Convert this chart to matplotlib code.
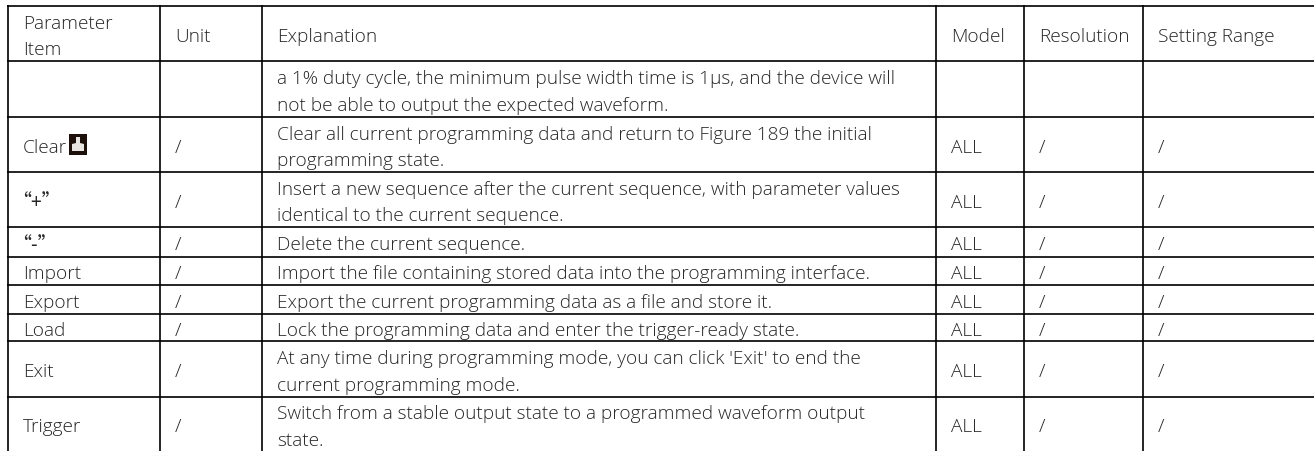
import matplotlib
matplotlib.use('AGG')
import matplotlib.pyplot as plt
from matplotlib.patches import Rectangle, Polygon

plt.rcParams['font.family'] = ['Open Sans', 'DejaVu Sans']

headers = ['Parameter\nItem', 'Unit', 'Explanation', 'Model', 'Resolution', 'Setting Range']
items = ['', 'Clear', '\u201c+\u201d', '\u201c-\u201d', 'Import', 'Export', 'Load', 'Exit', 'Trigger']
units = ['', '/', '/', '/', '/', '/', '/', '/', '/']
explanations = [
    'a 1% duty cycle, the minimum pulse width time is 1\u00b5s, and the device will\nnot be able to output the expected waveform.',
    'Clear all current programming data and return to Figure 189 the initial\nprogramming state.',
    'Insert a new sequence after the current sequence, with parameter values\nidentical to the current sequence.',
    'Delete the current sequence.',
    'Import the file containing stored data into the programming interface.',
    'Export the current programming data as a file and store it.',
    'Lock the programming data and enter the trigger-ready state.',
    "At any time during programming mode, you can click 'Exit' to end the\ncurrent programming mode.",
    'Switch from a stable output state to a programmed waveform output\nstate.',
]
models = ['', 'ALL', 'ALL', 'ALL', 'ALL', 'ALL', 'ALL', 'ALL', 'ALL']
resolutions = ['', '/', '/', '/', '/', '/', '/', '/', '/']
ranges = ['', '/', '/', '/', '/', '/', '/', '/', '/']

col_lines = [8, 160, 262, 936, 1024, 1143]
row_lines = [7, 62, 118, 173, 228, 258, 286, 315, 342, 398, 452]
pad = 15
font_size = 13.7
text_color = '#262626'


def draw_cell(ax, col, row, text):
    x = col_lines[col] + pad
    y = (row_lines[row] + row_lines[row + 1]) / 2 + 2.5
    family = ['Open Sans', 'DejaVu Sans']
    if text[:1] == '\u201c':
        # full width quotes sit at the right of their box
        family = ['Noto Sans CJK SC', 'DejaVu Sans']
        x -= 11
    ax.text(x, y, text, ha='left', va='center', fontsize=font_size,
            color=text_color, linespacing=1.6, family=family, fontweight='light')


def draw_clear_icon(ax, x, y):
    ax.add_patch(Rectangle((x, y), 18, 21, color='#1d0f0a', lw=0))
    ax.add_patch(Polygon([(x + 7, y + 3), (x + 11, y + 3), (x + 11, y + 9), (x + 15, y + 10),
                          (x + 15, y + 17), (x + 3, y + 17), (x + 3, y + 10), (x + 7, y + 9)],
                         color='#e8e4e0', lw=0))


fig = plt.figure(figsize=(13.14, 4.52), dpi=100)
ax = fig.add_axes([0, 0, 1, 1])
ax.set_xlim(0, 1314)
ax.set_ylim(452, 0)
ax.axis('off')

for x in col_lines:
    ax.plot([x, x], [6, 452], color='black', lw=1.2, solid_capstyle='butt')
for y in row_lines[:-1]:
    ax.plot([7, 1314], [y, y], color='black', lw=1.2, solid_capstyle='butt')

for col, head in enumerate(headers):
    draw_cell(ax, col, 0, head)

columns = [items, units, explanations, models, resolutions, ranges]
for col, values in enumerate(columns):
    for row, value in enumerate(values, start=1):
        draw_cell(ax, col, row, value)

draw_clear_icon(ax, 69, 135)

fig.savefig('out.png', dpi=100)
